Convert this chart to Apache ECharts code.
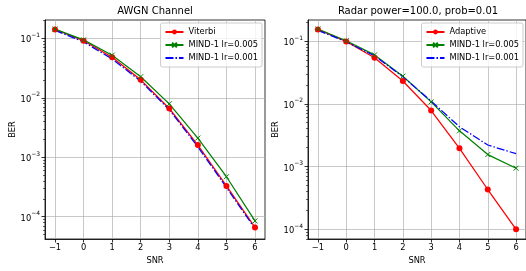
<!DOCTYPE html>
<html>
<head>
<meta charset="utf-8">
<script src="https://cdn.jsdelivr.net/npm/echarts@6/dist/echarts.min.js"></script>
<style>
  html, body { margin: 0; padding: 0; background: #fff; }
  #chart { width: 526px; height: 271px; }
</style>
</head>
<body>
<div id="chart"></div>
<script>
  var snr = [-1, 0, 1, 2, 3, 4, 5, 6];

  // AWGN Channel
  var viterbi = [0.141, 0.091, 0.048, 0.020, 0.0066, 0.0016, 0.00033, 0.000066];
  var awgnLr005 = [0.143, 0.094, 0.052, 0.0226, 0.0079, 0.0021, 0.00047, 0.000085];
  var awgnLr001 = [0.136, 0.087, 0.045, 0.019, 0.0063, 0.0015, 0.00031, 0.000063];

  // Radar power=100.0, prob=0.01
  var adaptive = [0.153, 0.098, 0.054, 0.023, 0.0078, 0.00195, 0.00043, 0.0001];
  var radarLr005 = [0.155, 0.101, 0.060, 0.0275, 0.0107, 0.0037, 0.00155, 0.00094];
  var radarLr001 = [0.148, 0.097, 0.058, 0.027, 0.011, 0.0043, 0.0022, 0.0016];

  var xTicks = [-1, 0, 1, 2, 3, 4, 5, 6];
  var yTicks = [1e-4, 1e-3, 1e-2, 1e-1];

  var minorTicks = [];
  [-5, -4, -3, -2, -1].forEach(function (e) {
    for (var k = 2; k <= 9; k++) minorTicks.push(k * Math.pow(10, e));
  });

  var font = 'DejaVu Sans';
  var chart = echarts.init(document.getElementById('chart'), null, { renderer: 'canvas' });

  function pairs(ys) {
    return snr.map(function (x, i) { return [x, ys[i]]; });
  }

  var crossPath = 'path://M0,0L10,10M10,0L0,10';

  function xAxis(grid) {
    return {
      type: 'value', gridIndex: grid, min: -1.35, max: 6.35,
      name: 'SNR', nameLocation: 'middle', nameGap: 16,
      nameTextStyle: { fontFamily: font, fontSize: 8.3, color: '#000' },
      axisLine: { show: true, onZero: false, lineStyle: { color: '#000', width: 0.8 } },
      axisTick: { show: true, length: 3.5, customValues: xTicks, lineStyle: { color: '#000', width: 0.8 } },
      axisLabel: {
        customValues: xTicks, margin: 5, fontFamily: font, fontSize: 8.3, color: '#000',
        formatter: function (v) { return v < 0 ? '\u2212' + Math.abs(v) : String(v); }
      },
      splitLine: { show: true, lineStyle: { color: '#b0b0b0', width: 0.7 } }
    };
  }

  function yAxis(grid, min, max) {
    return {
      type: 'log', gridIndex: grid, min: min, max: max, position: 'left',
      name: 'BER', nameLocation: 'middle', nameGap: 28, nameRotate: 90,
      nameTextStyle: { fontFamily: font, fontSize: 8.3, color: '#000' },
      axisLine: { show: true, onZero: false, lineStyle: { color: '#000', width: 0.8 } },
      axisTick: { show: true, length: 3.5, customValues: yTicks, lineStyle: { color: '#000', width: 0.8 } },
      axisLabel: {
        customValues: yTicks, margin: 5, color: '#000',
        formatter: function (v) {
          var e = Math.round(Math.log10(v));
          return '{b|10}{s|' + (e < 0 ? '\u2212' : '') + Math.abs(e) + '}';
        },
        rich: {
          b: { fontFamily: font, fontSize: 8.3, color: '#000', lineHeight: 12, verticalAlign: 'bottom' },
          s: { fontFamily: font, fontSize: 6, color: '#000', lineHeight: 7, verticalAlign: 'top' }
        }
      },
      splitLine: { show: true, lineStyle: { color: '#b0b0b0', width: 0.7 } }
    };
  }

  function minorAxis(grid, min, max) {
    return {
      type: 'log', gridIndex: grid, min: min, max: max, position: 'left', offset: 0,
      axisLine: { show: false, onZero: false },
      axisTick: { show: true, length: 2, customValues: minorTicks, lineStyle: { color: '#000', width: 0.6 } },
      axisLabel: { show: false },
      splitLine: { show: false }
    };
  }

  function lineSeries(name, xi, yi, data, color, kind) {
    var s = {
      name: name, type: 'line', xAxisIndex: xi, yAxisIndex: yi, data: pairs(data),
      animation: false, lineStyle: { color: color, width: 1.25 },
      itemStyle: { color: color }
    };
    if (kind === 'dot') {
      s.symbol = 'circle'; s.symbolSize = 6;
    } else if (kind === 'cross') {
      s.symbol = crossPath; s.symbolSize = 5;
      s.itemStyle = { color: color, borderColor: color, borderWidth: 1 };
    } else {
      s.symbol = 'none'; s.showSymbol = false;
      s.lineStyle.type = [8, 2, 1.5, 2];
    }
    return s;
  }

  function legend(names, right) {
    return {
      data: [
        { name: names[0] },
        { name: names[1] },
        { name: names[2], itemStyle: { color: 'rgba(0,0,0,0)', borderWidth: 0 } }
      ],
      orient: 'vertical', right: right, top: 23,
      padding: [4, 4, 4, 4], itemGap: 3, itemWidth: 18, itemHeight: 6,
      backgroundColor: 'rgba(255,255,255,0.8)', borderColor: '#cccccc', borderWidth: 1, borderRadius: 2,
      textStyle: { fontFamily: font, fontSize: 8.3, color: '#000', lineHeight: 10 }
    };
  }

  var option = {
    backgroundColor: '#fff',
    animation: false,
    title: [
      { text: 'AWGN Channel', left: 155, top: 6, textAlign: 'center', padding: 0,
        textStyle: { fontFamily: font, fontSize: 10, fontWeight: 'normal', color: '#000' } },
      { text: 'Radar power=100.0, prob=0.01', left: 418, top: 6, textAlign: 'center', padding: 0,
        textStyle: { fontFamily: font, fontSize: 10, fontWeight: 'normal', color: '#000' } }
    ],
    grid: [
      { left: 45, top: 20, width: 220, height: 219, show: true, borderColor: '#000', borderWidth: 0.8, backgroundColor: 'transparent' },
      { left: 308, top: 20, width: 220, height: 219, show: true, borderColor: '#000', borderWidth: 0.8, backgroundColor: 'transparent' }
    ],
    legend: [
      legend(['Viterbi', 'MIND-1 lr=0.005', 'MIND-1 lr=0.001'], 264),
      legend(['Adaptive', 'MIND-1 lr=0.005', 'MIND-1 lr=0.001'], 3)
    ],
    xAxis: [xAxis(0), xAxis(1)],
    yAxis: [
      yAxis(0, 4.22e-5, 0.203),
      yAxis(1, 7.0e-5, 0.216),
      minorAxis(0, 4.22e-5, 0.203),
      minorAxis(1, 7.0e-5, 0.216)
    ],
    series: [
      lineSeries('Viterbi', 0, 0, viterbi, '#ff0000', 'dot'),
      lineSeries('MIND-1 lr=0.005', 0, 0, awgnLr005, '#008000', 'cross'),
      lineSeries('MIND-1 lr=0.001', 0, 0, awgnLr001, '#0000ff', 'dashdot'),
      lineSeries('Adaptive', 1, 1, adaptive, '#ff0000', 'dot'),
      lineSeries('MIND-1 lr=0.005', 1, 1, radarLr005, '#008000', 'cross'),
      lineSeries('MIND-1 lr=0.001', 1, 1, radarLr001, '#0000ff', 'dashdot')
    ]
  };

  chart.setOption(option);
  window.addEventListener('resize', chart.resize);
</script>
</body>
</html>
